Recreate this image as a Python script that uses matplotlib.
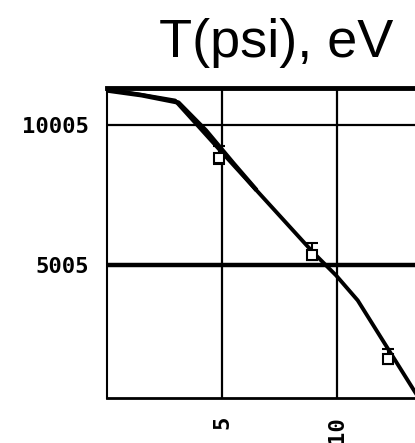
import numpy as np
import matplotlib.pyplot as plt

# temperature profile T(psi)
psi = [0.0, 1.43, 2.96, 5.0, 8.96, 9.96, 10.9, 13.4, 14.7]
temp = [11264, 11086, 10871, 9014, 5443, 4621, 3729, 443, -1200]

# second curve, lies on top of the first except near the knee
psi_2 = [0.0, 1.5, 3.1, 4.3, 5.5, 6.5]
temp_2 = [11230, 11060, 10800, 9800, 8620, 7668]

# measured points with error bars
psi_pts = [4.87, 8.91, 12.2]
temp_pts = [8800, 5336, 1621]
err_lo = [180, 180, 180]
err_hi = [464, 428, 358]

fig = plt.figure(figsize=(4.15, 4.43), dpi=100)
ax = fig.add_axes([0.258, 0.1016, 0.8145, 0.6998])

ax.plot(psi, temp, color='black', lw=2.8, zorder=3)
ax.plot(psi_2, temp_2, color='black', lw=3.2, zorder=3, solid_capstyle='butt')
ax.errorbar(psi_pts, temp_pts, yerr=[err_lo, err_hi], fmt='s', ms=6.5,
            mfc='white', mec='black', mew=1.5, ecolor='black', elinewidth=1.5,
            capsize=4, capthick=1.5, zorder=4)

ax.set_xlim(0, 14.7)
ax.set_ylim(240, 11320)

ax.set_xticks([5, 10])
ax.set_xticklabels(['5', '10'], rotation=90)
ax.set_yticks([5005, 10005])
ax.set_yticklabels(['5005', '10005'])
ax.tick_params(length=0, labelsize=16, pad=13)
for lab in ax.get_xticklabels() + ax.get_yticklabels():
    lab.set_family('DejaVu Sans Mono')
    lab.set_fontweight('bold')

# grid
for xv in [5, 10]:
    ax.axvline(xv, color='black', lw=1.6, zorder=1)
ax.axhline(10005, color='black', lw=1.6, zorder=1)
ax.axhline(5005, color='black', lw=3.2, zorder=1)

ax.spines['top'].set_linewidth(3.5)
ax.spines['bottom'].set_linewidth(2)
ax.spines['left'].set_linewidth(1.5)
ax.spines['right'].set_visible(False)

ax.set_title('T(psi), eV', fontsize=39, family='Liberation Sans', pad=22)

fig.savefig('out.png', dpi=100)
